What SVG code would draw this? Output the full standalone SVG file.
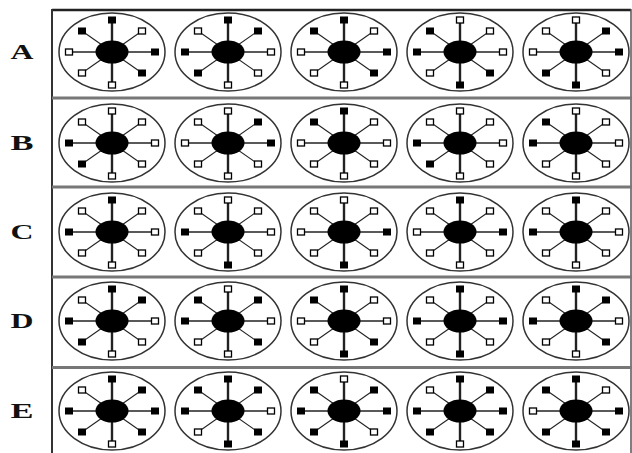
<svg xmlns="http://www.w3.org/2000/svg" xmlns:xlink="http://www.w3.org/1999/xlink" width="632" height="453" viewBox="0 0 632 453">
<style>
.lbl{font-family:"Liberation Serif","Times New Roman",serif;font-weight:bold;font-size:21px;fill:#111}
.rim{fill:#fff;stroke:#333;stroke-width:1.5}
.sp{stroke:#222;fill:none}
</style>
<defs>
<g id="wheel">
<ellipse class="rim" cx="0" cy="0" rx="53" ry="39"/>
<line class="sp" x1="0" y1="-32" x2="0" y2="33" stroke-width="2.4"/>
<line class="sp" x1="-43" y1="0" x2="43" y2="0" stroke-width="1.6"/>
<line class="sp" x1="-30" y1="-21" x2="30" y2="21" stroke-width="1.1"/>
<line class="sp" x1="-30" y1="21" x2="30" y2="-21" stroke-width="1.1"/>
<ellipse cx="0" cy="0" rx="16.5" ry="11.5" fill="#000"/>
</g>
<rect id="f" x="-4" y="-3.5" width="8" height="7" fill="#000"/>
<rect id="o" x="-3.5" y="-3" width="7" height="6" fill="#fff" stroke="#000" stroke-width="1.3"/>
</defs>
<rect x="0" y="0" width="632" height="453" fill="#fff"/>
<g id="frame">
<line x1="52" y1="10" x2="631" y2="10" stroke="#222" stroke-width="2.5"/>
<line x1="52" y1="9" x2="52" y2="453" stroke="#333" stroke-width="2"/>
<line x1="631" y1="9" x2="631" y2="453" stroke="#555" stroke-width="1.5"/>
<rect x="52" y="96.5" width="580" height="3" fill="#777"/>
<rect x="52" y="185.5" width="580" height="3" fill="#777"/>
<rect x="52" y="275.5" width="580" height="3" fill="#777"/>
<rect x="52" y="366" width="580" height="3" fill="#777"/>
</g>
<g id="labels">
<text class="lbl" x="22" y="59" text-anchor="middle" textLength="23" lengthAdjust="spacingAndGlyphs">A</text>
<text class="lbl" x="22" y="150" text-anchor="middle" textLength="23" lengthAdjust="spacingAndGlyphs">B</text>
<text class="lbl" x="22" y="239" text-anchor="middle" textLength="23" lengthAdjust="spacingAndGlyphs">C</text>
<text class="lbl" x="22" y="328" text-anchor="middle" textLength="23" lengthAdjust="spacingAndGlyphs">D</text>
<text class="lbl" x="22" y="418" text-anchor="middle" textLength="23" lengthAdjust="spacingAndGlyphs">E</text>
</g>
<!-- Row A -->
<g id="A1" transform="translate(112,52)"><use href="#wheel"/><use href="#f" x="0" y="-32"/><use href="#o" x="30" y="-21"/><use href="#f" x="43" y="0"/><use href="#f" x="30" y="21"/><use href="#o" x="0" y="33"/><use href="#o" x="-30" y="21"/><use href="#o" x="-43" y="0"/><use href="#f" x="-30" y="-21"/></g>
<g id="A2" transform="translate(228,52)"><use href="#wheel"/><use href="#f" x="0" y="-32"/><use href="#f" x="30" y="-21"/><use href="#o" x="43" y="0"/><use href="#o" x="30" y="21"/><use href="#o" x="0" y="33"/><use href="#f" x="-30" y="21"/><use href="#f" x="-43" y="0"/><use href="#o" x="-30" y="-21"/></g>
<g id="A3" transform="translate(344,52)"><use href="#wheel"/><use href="#f" x="0" y="-32"/><use href="#o" x="30" y="-21"/><use href="#f" x="43" y="0"/><use href="#f" x="30" y="21"/><use href="#o" x="0" y="33"/><use href="#o" x="-30" y="21"/><use href="#o" x="-43" y="0"/><use href="#f" x="-30" y="-21"/></g>
<g id="A4" transform="translate(460,52)"><use href="#wheel"/><use href="#o" x="0" y="-32"/><use href="#o" x="30" y="-21"/><use href="#o" x="43" y="0"/><use href="#f" x="30" y="21"/><use href="#f" x="0" y="33"/><use href="#o" x="-30" y="21"/><use href="#f" x="-43" y="0"/><use href="#f" x="-30" y="-21"/></g>
<g id="A5" transform="translate(576,52)"><use href="#wheel"/><use href="#o" x="0" y="-32"/><use href="#f" x="30" y="-21"/><use href="#f" x="43" y="0"/><use href="#o" x="30" y="21"/><use href="#f" x="0" y="33"/><use href="#f" x="-30" y="21"/><use href="#o" x="-43" y="0"/><use href="#o" x="-30" y="-21"/></g>
<!-- Row B -->
<g id="B1" transform="translate(112,143)"><use href="#wheel"/><use href="#o" x="0" y="-32"/><use href="#o" x="30" y="-21"/><use href="#o" x="43" y="0"/><use href="#o" x="30" y="21"/><use href="#o" x="0" y="33"/><use href="#f" x="-30" y="21"/><use href="#f" x="-43" y="0"/><use href="#o" x="-30" y="-21"/></g>
<g id="B2" transform="translate(228,143)"><use href="#wheel"/><use href="#o" x="0" y="-32"/><use href="#f" x="30" y="-21"/><use href="#f" x="43" y="0"/><use href="#o" x="30" y="21"/><use href="#o" x="0" y="33"/><use href="#o" x="-30" y="21"/><use href="#o" x="-43" y="0"/><use href="#o" x="-30" y="-21"/></g>
<g id="B3" transform="translate(344,143)"><use href="#wheel"/><use href="#f" x="0" y="-32"/><use href="#o" x="30" y="-21"/><use href="#o" x="43" y="0"/><use href="#o" x="30" y="21"/><use href="#o" x="0" y="33"/><use href="#o" x="-30" y="21"/><use href="#o" x="-43" y="0"/><use href="#f" x="-30" y="-21"/></g>
<g id="B4" transform="translate(460,143)"><use href="#wheel"/><use href="#o" x="0" y="-32"/><use href="#o" x="30" y="-21"/><use href="#o" x="43" y="0"/><use href="#o" x="30" y="21"/><use href="#o" x="0" y="33"/><use href="#f" x="-30" y="21"/><use href="#f" x="-43" y="0"/><use href="#o" x="-30" y="-21"/></g>
<g id="B5" transform="translate(576,143)"><use href="#wheel"/><use href="#o" x="0" y="-32"/><use href="#o" x="30" y="-21"/><use href="#o" x="43" y="0"/><use href="#o" x="30" y="21"/><use href="#o" x="0" y="33"/><use href="#o" x="-30" y="21"/><use href="#f" x="-43" y="0"/><use href="#f" x="-30" y="-21"/></g>
<!-- Row C -->
<g id="C1" transform="translate(112,232)"><use href="#wheel"/><use href="#f" x="0" y="-32"/><use href="#o" x="30" y="-21"/><use href="#o" x="43" y="0"/><use href="#o" x="30" y="21"/><use href="#o" x="0" y="33"/><use href="#o" x="-30" y="21"/><use href="#f" x="-43" y="0"/><use href="#o" x="-30" y="-21"/></g>
<g id="C2" transform="translate(228,232)"><use href="#wheel"/><use href="#o" x="0" y="-32"/><use href="#o" x="30" y="-21"/><use href="#o" x="43" y="0"/><use href="#o" x="30" y="21"/><use href="#f" x="0" y="33"/><use href="#o" x="-30" y="21"/><use href="#f" x="-43" y="0"/><use href="#o" x="-30" y="-21"/></g>
<g id="C3" transform="translate(344,232)"><use href="#wheel"/><use href="#o" x="0" y="-32"/><use href="#o" x="30" y="-21"/><use href="#f" x="43" y="0"/><use href="#o" x="30" y="21"/><use href="#f" x="0" y="33"/><use href="#o" x="-30" y="21"/><use href="#o" x="-43" y="0"/><use href="#o" x="-30" y="-21"/></g>
<g id="C4" transform="translate(460,232)"><use href="#wheel"/><use href="#f" x="0" y="-32"/><use href="#o" x="30" y="-21"/><use href="#f" x="43" y="0"/><use href="#o" x="30" y="21"/><use href="#o" x="0" y="33"/><use href="#o" x="-30" y="21"/><use href="#o" x="-43" y="0"/><use href="#o" x="-30" y="-21"/></g>
<g id="C5" transform="translate(576,232)"><use href="#wheel"/><use href="#f" x="0" y="-32"/><use href="#o" x="30" y="-21"/><use href="#o" x="43" y="0"/><use href="#o" x="30" y="21"/><use href="#o" x="0" y="33"/><use href="#o" x="-30" y="21"/><use href="#f" x="-43" y="0"/><use href="#o" x="-30" y="-21"/></g>
<!-- Row D -->
<g id="D1" transform="translate(112,321)"><use href="#wheel"/><use href="#f" x="0" y="-32"/><use href="#f" x="30" y="-21"/><use href="#o" x="43" y="0"/><use href="#o" x="30" y="21"/><use href="#o" x="0" y="33"/><use href="#f" x="-30" y="21"/><use href="#f" x="-43" y="0"/><use href="#o" x="-30" y="-21"/></g>
<g id="D2" transform="translate(228,321)"><use href="#wheel"/><use href="#o" x="0" y="-32"/><use href="#f" x="30" y="-21"/><use href="#o" x="43" y="0"/><use href="#f" x="30" y="21"/><use href="#o" x="0" y="33"/><use href="#o" x="-30" y="21"/><use href="#f" x="-43" y="0"/><use href="#f" x="-30" y="-21"/></g>
<g id="D3" transform="translate(344,321)"><use href="#wheel"/><use href="#f" x="0" y="-32"/><use href="#o" x="30" y="-21"/><use href="#o" x="43" y="0"/><use href="#f" x="30" y="21"/><use href="#f" x="0" y="33"/><use href="#o" x="-30" y="21"/><use href="#o" x="-43" y="0"/><use href="#f" x="-30" y="-21"/></g>
<g id="D4" transform="translate(460,321)"><use href="#wheel"/><use href="#f" x="0" y="-32"/><use href="#o" x="30" y="-21"/><use href="#f" x="43" y="0"/><use href="#o" x="30" y="21"/><use href="#f" x="0" y="33"/><use href="#o" x="-30" y="21"/><use href="#f" x="-43" y="0"/><use href="#o" x="-30" y="-21"/></g>
<g id="D5" transform="translate(576,321)"><use href="#wheel"/><use href="#f" x="0" y="-32"/><use href="#f" x="30" y="-21"/><use href="#o" x="43" y="0"/><use href="#f" x="30" y="21"/><use href="#o" x="0" y="33"/><use href="#o" x="-30" y="21"/><use href="#f" x="-43" y="0"/><use href="#o" x="-30" y="-21"/></g>
<!-- Row E -->
<g id="E1" transform="translate(112,411)"><use href="#wheel"/><use href="#f" x="0" y="-32"/><use href="#f" x="30" y="-21"/><use href="#f" x="43" y="0"/><use href="#f" x="30" y="21"/><use href="#o" x="0" y="33"/><use href="#f" x="-30" y="21"/><use href="#f" x="-43" y="0"/><use href="#o" x="-30" y="-21"/></g>
<g id="E2" transform="translate(228,411)"><use href="#wheel"/><use href="#f" x="0" y="-32"/><use href="#f" x="30" y="-21"/><use href="#o" x="43" y="0"/><use href="#f" x="30" y="21"/><use href="#f" x="0" y="33"/><use href="#o" x="-30" y="21"/><use href="#f" x="-43" y="0"/><use href="#f" x="-30" y="-21"/></g>
<g id="E3" transform="translate(344,411)"><use href="#wheel"/><use href="#o" x="0" y="-32"/><use href="#f" x="30" y="-21"/><use href="#f" x="43" y="0"/><use href="#o" x="30" y="21"/><use href="#f" x="0" y="33"/><use href="#f" x="-30" y="21"/><use href="#f" x="-43" y="0"/><use href="#f" x="-30" y="-21"/></g>
<g id="E4" transform="translate(460,411)"><use href="#wheel"/><use href="#f" x="0" y="-32"/><use href="#f" x="30" y="-21"/><use href="#f" x="43" y="0"/><use href="#f" x="30" y="21"/><use href="#o" x="0" y="33"/><use href="#f" x="-30" y="21"/><use href="#f" x="-43" y="0"/><use href="#o" x="-30" y="-21"/></g>
<g id="E5" transform="translate(576,411)"><use href="#wheel"/><use href="#f" x="0" y="-32"/><use href="#o" x="30" y="-21"/><use href="#f" x="43" y="0"/><use href="#f" x="30" y="21"/><use href="#f" x="0" y="33"/><use href="#f" x="-30" y="21"/><use href="#o" x="-43" y="0"/><use href="#f" x="-30" y="-21"/></g>
</svg>
